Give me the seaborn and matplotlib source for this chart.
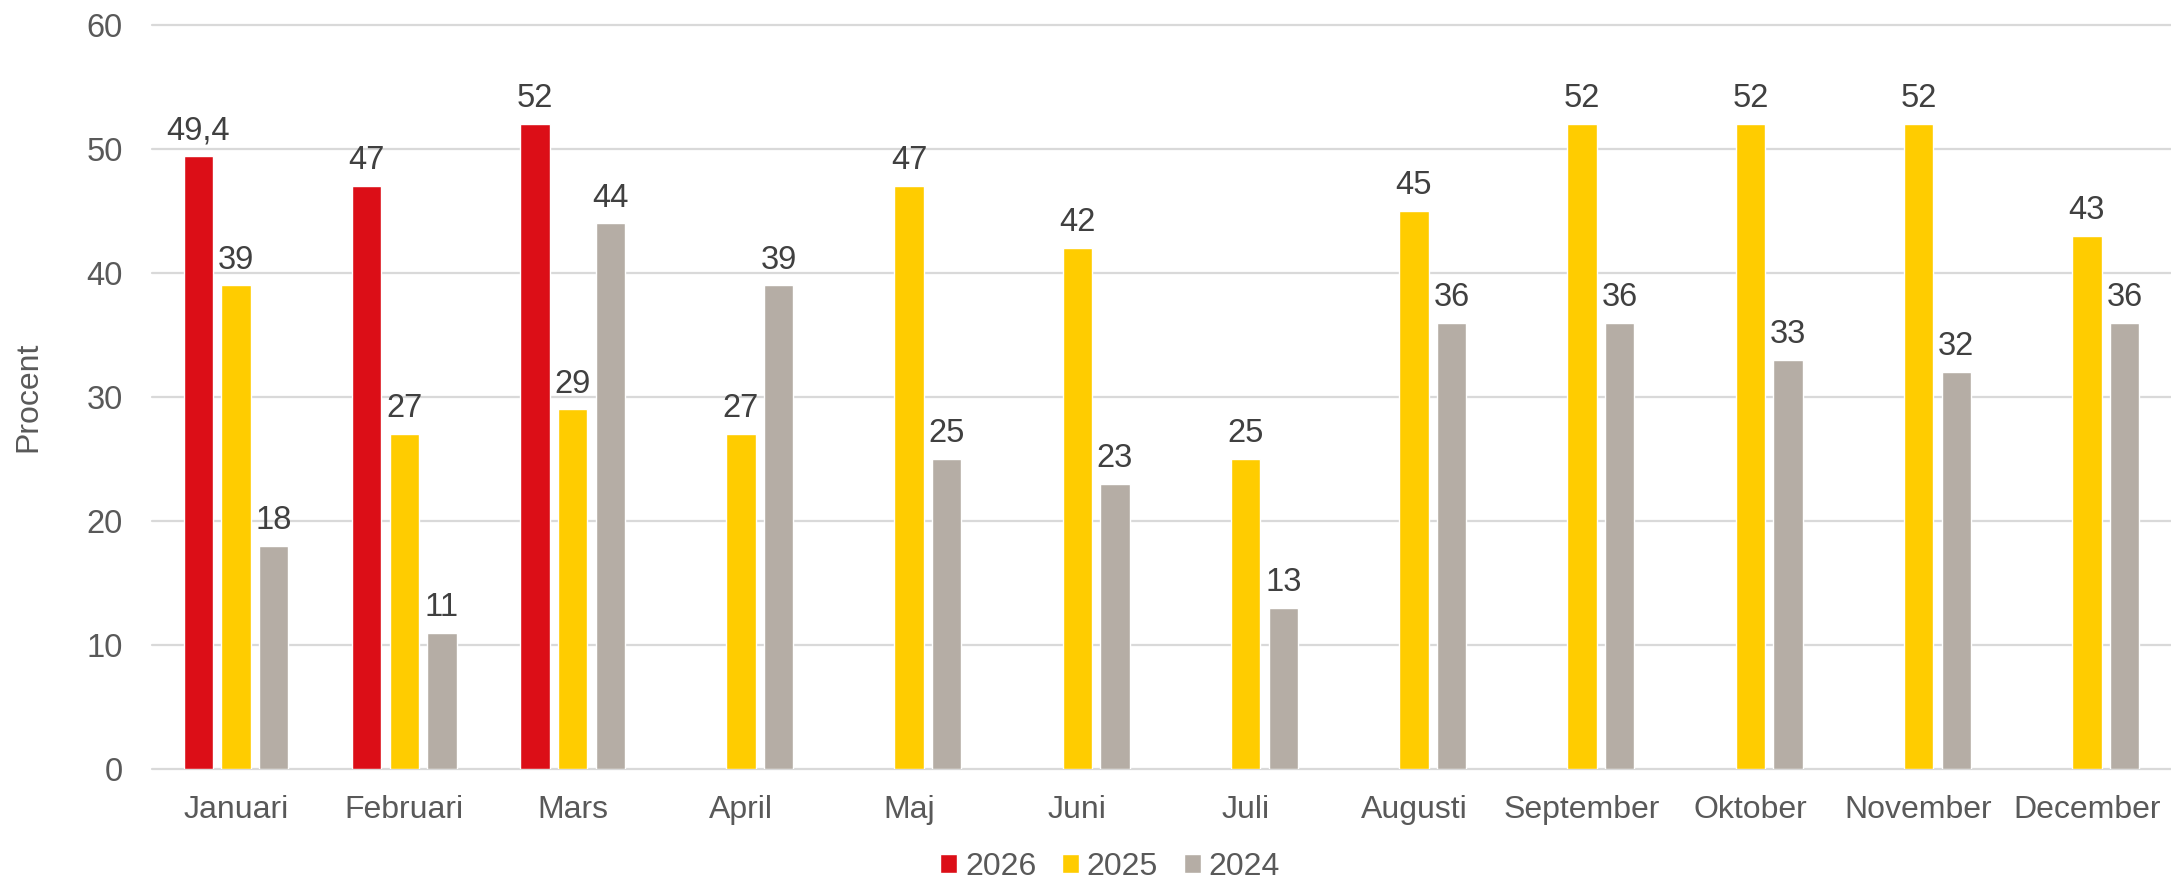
import seaborn as sns
import matplotlib.pyplot as plt
import pandas as pd
import numpy as np

## Procent per månad, tre år

months = ['Januari', 'Februari', 'Mars', 'April', 'Maj', 'Juni', 'Juli',
          'Augusti', 'September', 'Oktober', 'November', 'December']
years = ['2026', '2025', '2024']

v2026 = [49.4, 47, 52, np.nan, np.nan, np.nan, np.nan, np.nan, np.nan, np.nan, np.nan, np.nan]
v2025 = [39, 27, 29, 27, 47, 42, 25, 45, 52, 52, 52, 43]
v2024 = [18, 11, 44, 39, 25, 23, 13, 36, 36, 33, 32, 36]

colors = ['#DC0E17', '#FFCC00', '#B5ADA5']

data = pd.DataFrame({'month': months * 3,
                     'year': [y for y in years for _ in months],
                     'value': v2026 + v2025 + v2024})
data = data.dropna()

sns.set_style('white')
plt.rcParams['font.family'] = ['Liberation Sans', 'DejaVu Sans']

fig = plt.figure(figsize=(21.71, 8.81), dpi=100)
ax = fig.add_axes([152 / 2171, 1 - 769 / 881, 2019 / 2171, 744 / 881])

sns.barplot(data=data, x='month', y='value', hue='year', order=months, hue_order=years,
            palette=colors, saturation=1, errorbar=None, width=0.67, gap=0.22, ax=ax)

# data labels, comma as decimal mark
for cont, vals in zip(ax.containers, [v2026, v2025, v2024]):
    vals = [v for v in vals if not np.isnan(v)]
    labs = [str(int(v)) if float(v).is_integer() else str(v).replace('.', ',') for v in vals]
    ax.bar_label(cont, labels=labs, padding=7, fontsize=23.5, color='#404040')

ax.set_ylim(0, 60)
ax.set_xlim(-0.5, 11.5)
ax.set_yticks(range(0, 61, 10))
ax.yaxis.grid(True, color='#D9D9D9', linewidth=1.6)
for gl in ax.get_ygridlines():
    gl.set_clip_on(False)
ax.set_axisbelow(True)
sns.despine(ax=ax, left=True, bottom=True)
ax.tick_params(axis='y', length=0, pad=21, labelsize=23.5, labelcolor='#595959')
ax.tick_params(axis='x', length=0, pad=19, labelsize=23, labelcolor='#595959')
ax.set_xlabel('')
ax.set_ylabel('')
fig.text(28 / 2171, 1 - 397 / 881, 'Procent', rotation=90, ha='center', va='center',
         fontsize=23, color='#595959')

sns.move_legend(ax, 'center', bbox_to_anchor=(0.4745, -0.132), ncol=3, frameon=False,
                title=None, fontsize=23, handlelength=0.53, handleheight=0.53,
                handletextpad=0.25, columnspacing=0.8, labelcolor='#595959')

fig.savefig('out.png', dpi=100)
